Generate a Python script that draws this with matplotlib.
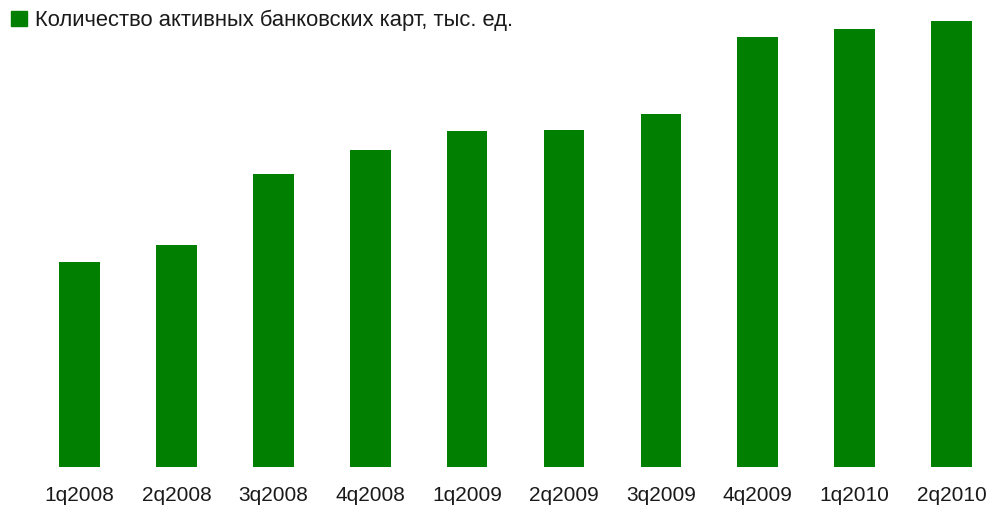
import matplotlib
matplotlib.use("Agg")
import matplotlib.pyplot as plt
from matplotlib.patches import Patch

categories = ["1q2008", "2q2008", "3q2008", "4q2008", "1q2009",
              "2q2009", "3q2009", "4q2009", "1q2010", "2q2010"]
values = [204.8, 221.2, 292.5, 316.5, 335.5, 336.5, 352.5, 429.5, 437.5, 445.5]
series_name = "Количество активных банковских карт, тыс. ед."
bar_color = "#007F00"

plt.rcParams['font.family'] = ['Liberation Sans', 'DejaVu Sans']

W, H = 996, 507
fig = plt.figure(figsize=(W / 100, H / 100), dpi=100)
base = 466.5
ax = fig.add_axes([0, (H - base) / H, 1, base / H])
x = list(range(len(categories)))
ax.bar(x, values, width=0.42, color=bar_color)
ax.set_xlim(-79.5 / 96.9, (W - 79.5) / 96.9)
ax.set_ylim(0, base)
ax.set_xticks(x)
ax.set_xticklabels(categories, fontsize=15, color="#1a1a1a")
ax.tick_params(axis='x', length=0, pad=14)
ax.set_yticks([])
for s in ax.spines.values():
    s.set_visible(False)

leg = fig.legend(handles=[Patch(color=bar_color, label=series_name)],
                 loc='upper left', bbox_to_anchor=(11 / W, 1 - 10 / H),
                 frameon=False, fontsize=15.8, handlelength=0.72, handleheight=0.72,
                 handletextpad=0.36, borderpad=0, borderaxespad=0)
for t in leg.get_texts():
    t.set_color("#1a1a1a")

fig.savefig("out.png", dpi=100)
